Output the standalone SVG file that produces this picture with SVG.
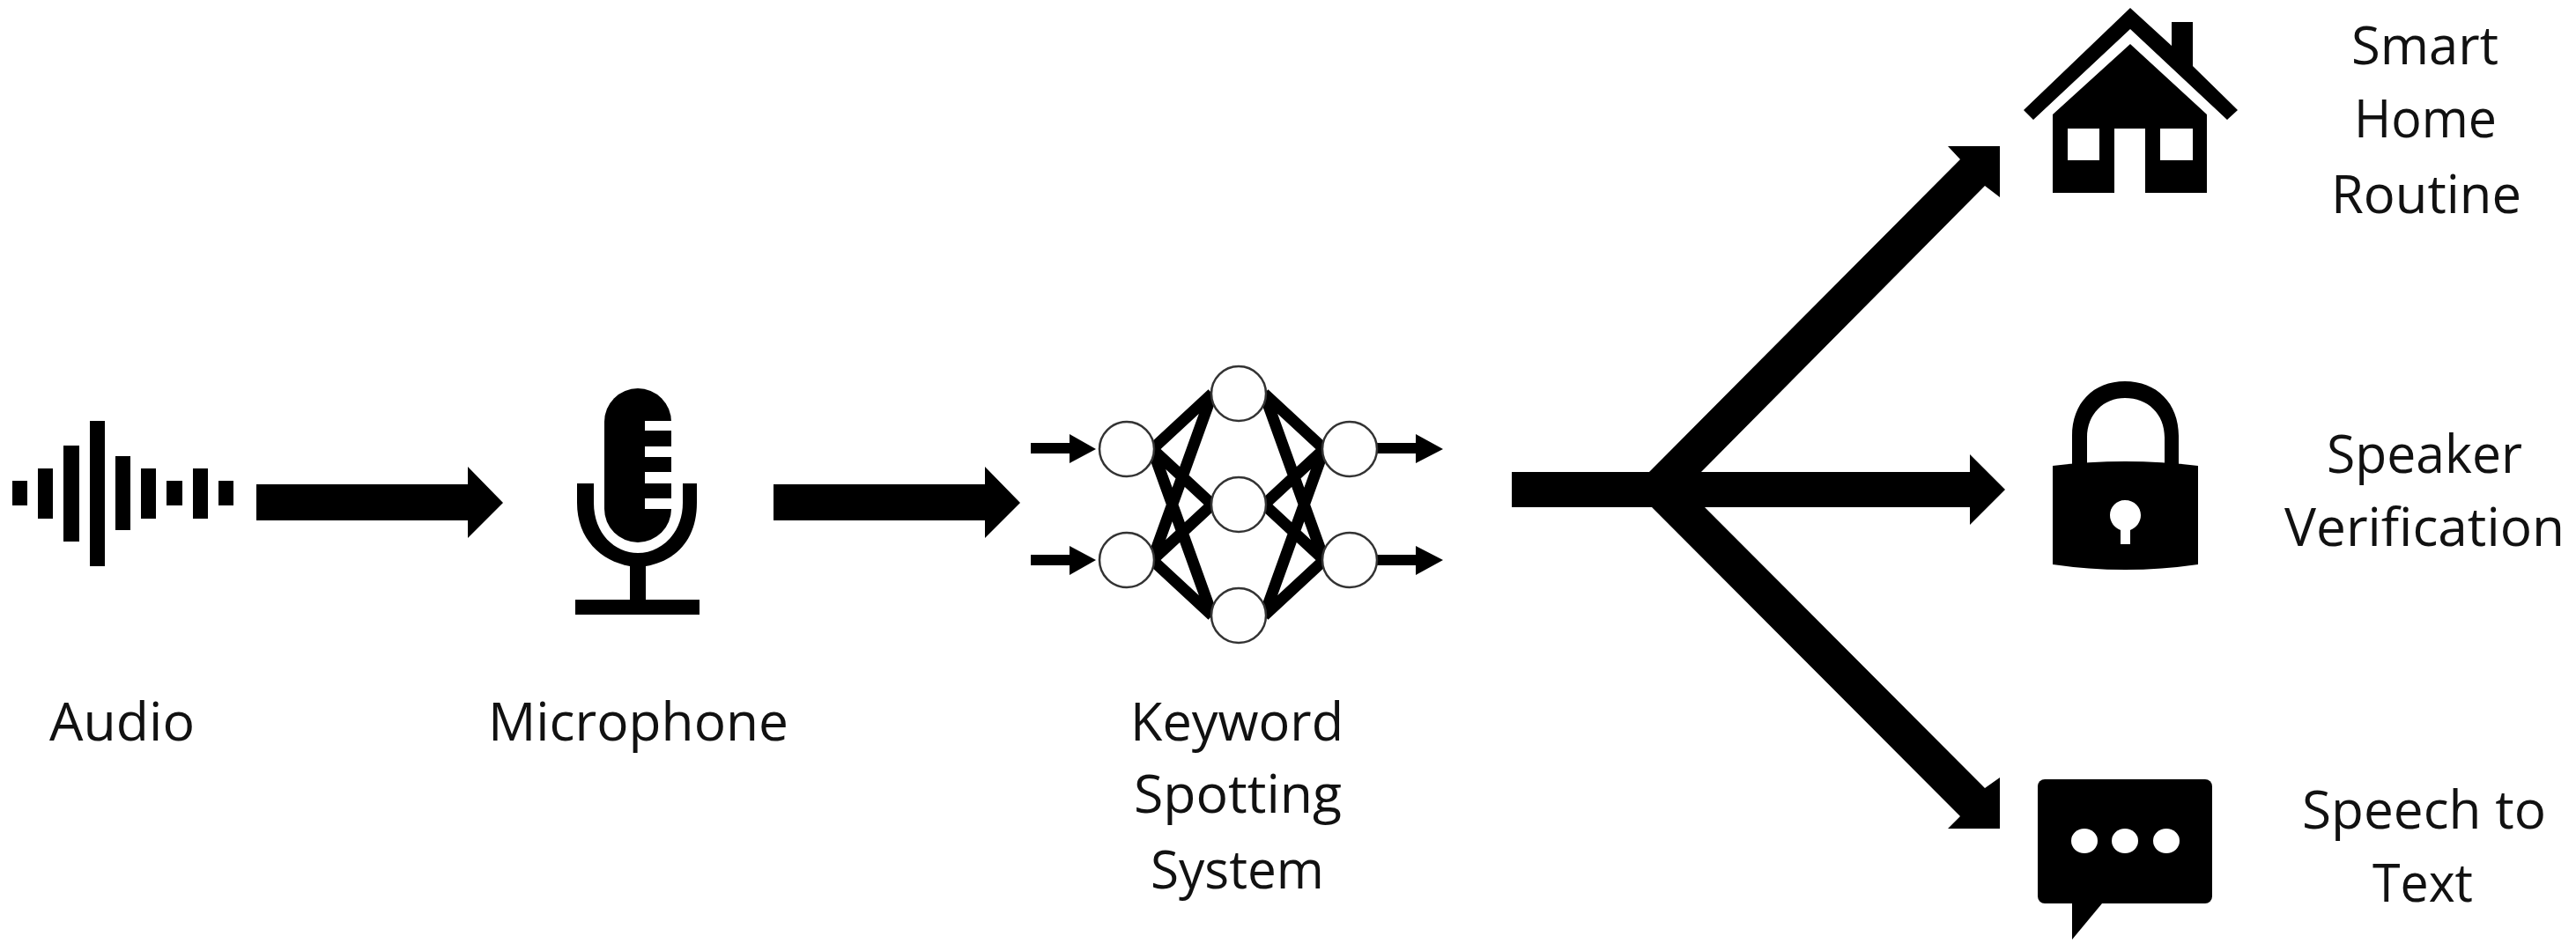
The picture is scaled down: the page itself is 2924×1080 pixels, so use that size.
<svg xmlns="http://www.w3.org/2000/svg" width="2924" height="1080" viewBox="0 0 2924 1080">
<style>
.ink{fill:#000}
.hole{fill:#fff}
.lbl{font-family:"Open Sans","Noto Sans","Liberation Sans",sans-serif;font-size:61px;fill:#111}
.node{fill:#fff;stroke:#333;stroke-width:2.5}
.edge{stroke:#000;stroke-width:13;fill:none}
</style>
<rect width="2924" height="1080" fill="#fff"/>
<g id="connectors" class="ink">
<polygon points="291,550 531,550 531,530 571,571 531,611 531,591 291,591"/>
<polygon points="878,550 1118,550 1118,530 1158,571 1118,611 1118,591 878,591"/>
<polygon id="fan" points="1716,536 1872,536 2225,181 2211,166 2270,166 2270,224 2253,211 1931,536 2236,536 2236,516 2276,556 2236,596 2236,576 1935,576 2253,895 2270,883 2270,941 2211,941 2225,927 1875,576 1716,576"/>
</g>
<g id="audio" class="ink">
<rect x="14" y="546" width="17" height="28"/>
<rect x="43" y="532" width="17" height="57"/>
<rect x="72" y="506" width="18" height="109"/>
<rect x="102" y="478" width="17" height="165"/>
<rect x="131" y="518" width="17" height="84"/>
<rect x="160" y="532" width="17" height="57"/>
<rect x="189" y="546" width="18" height="28"/>
<rect x="219" y="532" width="17" height="57"/>
<rect x="248" y="546" width="17" height="28"/>
<text class="lbl" x="56" y="841" textLength="165" lengthAdjust="spacingAndGlyphs">Audio</text>
</g>
<g id="microphone" class="ink">
<rect x="686" y="441" width="76" height="175" rx="38" ry="38"/>
<rect class="hole" x="732" y="478" width="31" height="11"/>
<rect class="hole" x="732" y="507" width="31" height="12"/>
<rect class="hole" x="732" y="536" width="31" height="13"/>
<rect class="hole" x="732" y="566" width="31" height="12"/>
<path d="M655,549H674V571C674,606 698,628 724,628C750,628 775,606 775,571V549H791V571C791,612 768,637 733,643V681H794V698H653V681H715V643C682,637 655,612 655,571Z"/>
<text class="lbl" x="554" y="841" textLength="341" lengthAdjust="spacingAndGlyphs">Microphone</text>
</g>
<g id="keyword-spotting-system">
<g class="edge">
<path d="M1308,510L1376,447M1308,510L1376,573M1308,510L1376,699M1308,636L1376,447M1308,636L1376,573M1308,636L1376,699"/>
<path d="M1503,510L1435,447M1503,510L1435,573M1503,510L1435,699M1503,636L1435,447M1503,636L1435,573M1503,636L1435,699"/>
</g>
<g class="ink">
<polygon points="1170,503 1214,503 1214,493 1244,510 1214,526 1214,515 1170,515"/>
<polygon points="1170,630 1214,630 1214,620 1244,636 1214,653 1214,642 1170,642"/>
<polygon points="1563,503 1607,503 1607,493 1638,510 1607,526 1607,515 1563,515"/>
<polygon points="1563,630 1607,630 1607,620 1638,636 1607,653 1607,642 1563,642"/>
</g>
<circle class="node" cx="1279" cy="510" r="31"/>
<circle class="node" cx="1279" cy="636" r="31"/>
<circle class="node" cx="1406" cy="447" r="31"/>
<circle class="node" cx="1406" cy="573" r="31"/>
<circle class="node" cx="1406" cy="699" r="31"/>
<circle class="node" cx="1532" cy="510" r="31"/>
<circle class="node" cx="1532" cy="636" r="31"/>
<text class="lbl" x="1283" y="841" textLength="242" lengthAdjust="spacingAndGlyphs">Keyword</text>
<text class="lbl" x="1287" y="923" textLength="236" lengthAdjust="spacingAndGlyphs">Spotting</text>
<text class="lbl" x="1306" y="1009" textLength="197" lengthAdjust="spacingAndGlyphs">System</text>
</g>
<g id="smart-home-routine" class="ink">
<polygon points="2418,9 2465,52 2465,25 2489,25 2489,75 2540,125 2528,136 2418,33 2308,136 2297,125"/>
<path fill-rule="evenodd" d="M2418,50L2505,130V219H2435V146H2400V219H2330V130ZM2347,146V182H2383V146ZM2452,146V182H2489V146Z"/>
<text class="lbl" x="2669" y="73" textLength="167" lengthAdjust="spacingAndGlyphs">Smart</text>
<text class="lbl" x="2672" y="156" textLength="162" lengthAdjust="spacingAndGlyphs">Home</text>
<text class="lbl" x="2646" y="242" textLength="216" lengthAdjust="spacingAndGlyphs">Routine</text>
</g>
<g id="speaker-verification" class="ink">
<path fill-rule="evenodd" d="M2352,530V495C2352,458 2376,433 2412,433C2448,433 2473,458 2473,495V530H2457V497C2457,470 2438,452 2412,452C2388,452 2369,470 2369,497V530Z"/>
<path d="M2330,529Q2412,519 2495,529V641Q2412,653 2330,641Z"/>
<path class="hole" d="M2412,568C2423,568 2430,576 2430,585C2430,593 2425,599 2418,602V618H2407V602C2400,599 2395,593 2395,585C2395,576 2402,568 2412,568Z"/>
<text class="lbl" x="2641" y="537" textLength="222" lengthAdjust="spacingAndGlyphs">Speaker</text>
<text class="lbl" x="2593" y="620" textLength="318" lengthAdjust="spacingAndGlyphs">Verification</text>
</g>
<g id="speech-to-text" class="ink">
<rect x="2313" y="885" width="198" height="141" rx="8"/>
<polygon points="2352,1020 2352,1067 2391,1020"/>
<ellipse class="hole" cx="2366" cy="955" rx="15" ry="14"/>
<ellipse class="hole" cx="2412" cy="955" rx="15" ry="14"/>
<ellipse class="hole" cx="2459" cy="955" rx="15" ry="14"/>
<text class="lbl" x="2613" y="941" textLength="277" lengthAdjust="spacingAndGlyphs">Speech to</text>
<text class="lbl" x="2693" y="1024" textLength="114" lengthAdjust="spacingAndGlyphs">Text</text>
</g>
</svg>
